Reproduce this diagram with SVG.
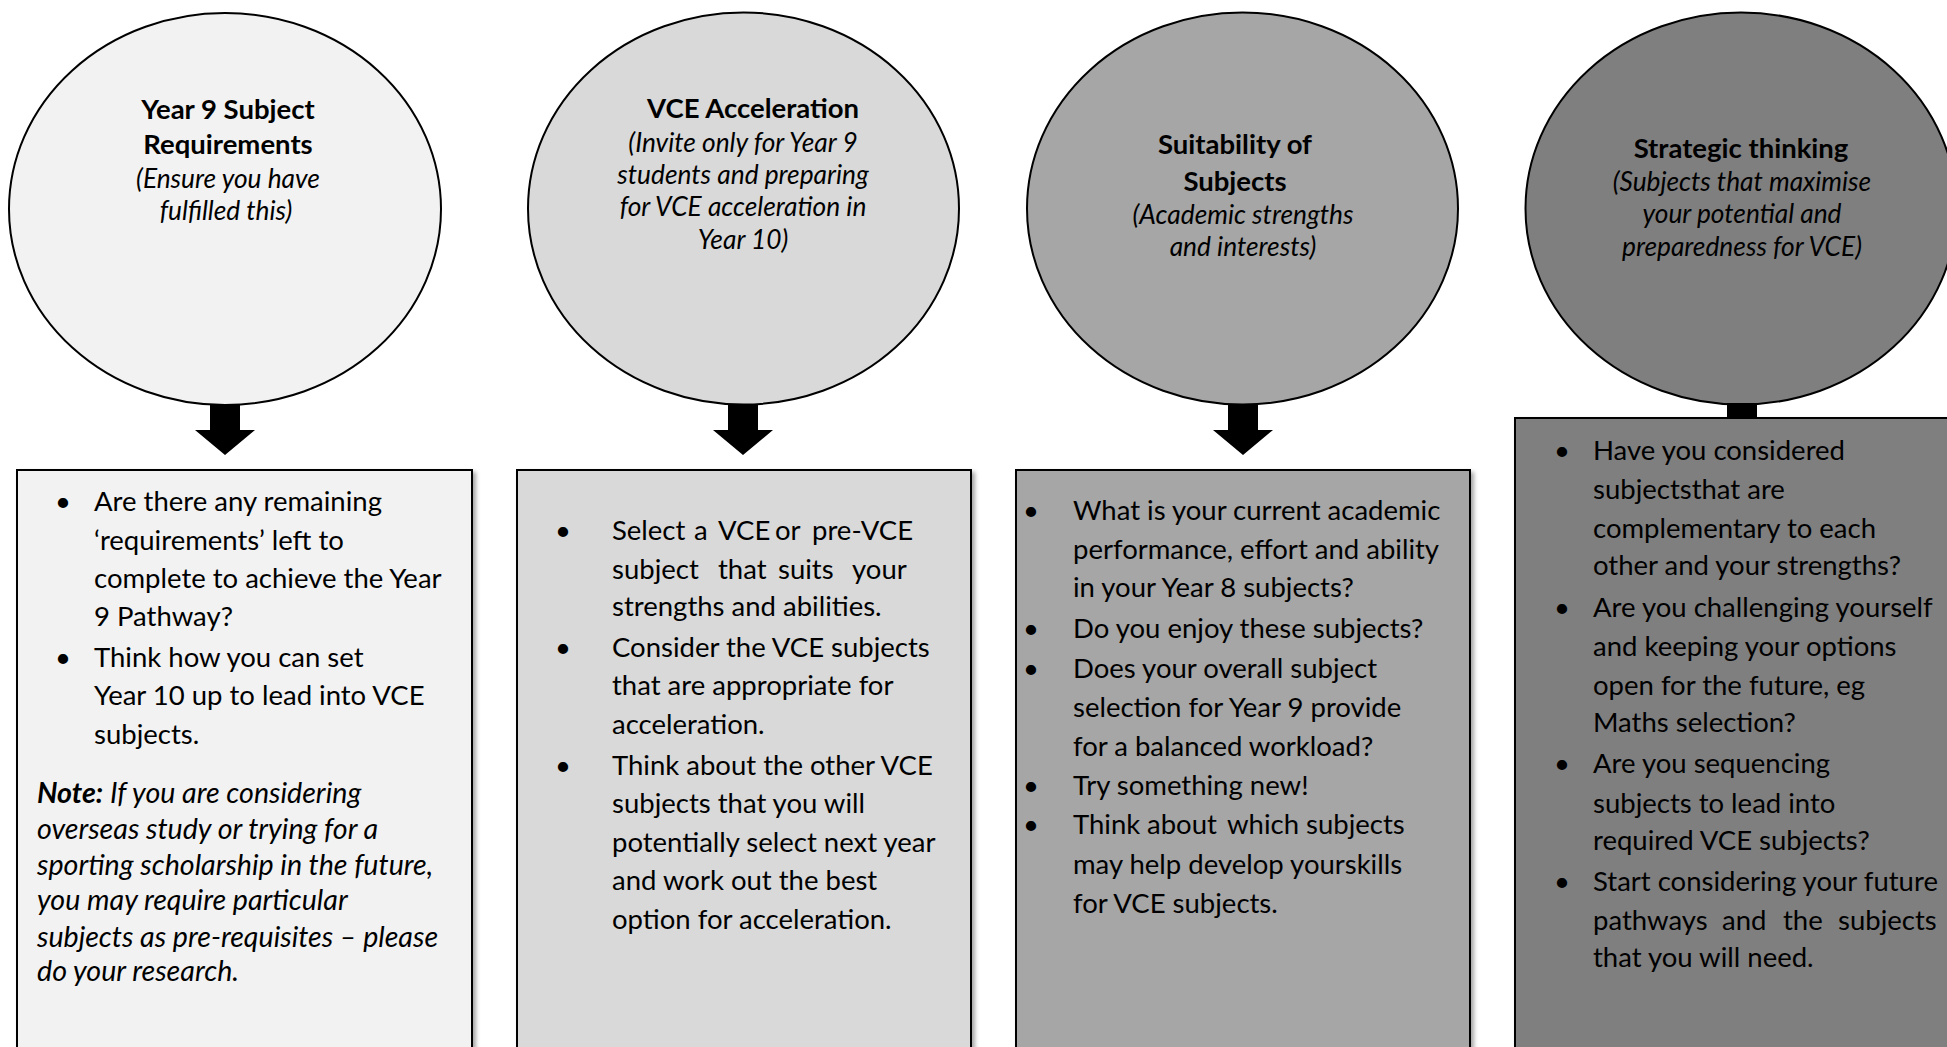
<svg xmlns="http://www.w3.org/2000/svg" width="1947" height="1047" viewBox="0 0 1947 1047">
<defs>
<style>
.t{font-family:Lato,"Liberation Sans",sans-serif;fill:#000;}
.h{font-size:27.5px;font-weight:bold;text-anchor:middle;}
.s{font-size:26.3px;font-style:italic;text-anchor:middle;}
.b{font-size:27.5px;}
.n{font-size:28.6px;font-style:italic;}
.circ{stroke:#000;stroke-width:2;}
.box{stroke:#000;stroke-width:2;filter:url(#sh);}
.c1{fill:#f2f2f2}.c2{fill:#d9d9d9}.c3{fill:#a6a6a6}.c4{fill:#7f7f7f}
</style>
<filter id="sh" x="-5%" y="-5%" width="110%" height="110%">
<feDropShadow dx="3" dy="3" stdDeviation="2" flood-color="#000" flood-opacity="0.35"/>
</filter>
<path id="arrow" d="M-15,0 H15 V26 H30 L0,51 L-30,26 H-15 Z" fill="#000"/>
</defs>

<g id="node-year9">
<ellipse class="circ c1" cx="225" cy="209" rx="216" ry="196"/>
<text class="t h" x="228" y="119">Year 9 Subject</text>
<text class="t h" x="228" y="154">Requirements</text>
<text class="t s" x="228" y="188">(Ensure you have</text>
<text class="t s" x="226" y="220">fulfilled this)</text>
</g>

<g id="node-vce">
<ellipse class="circ c2" cx="743.5" cy="208.5" rx="215.5" ry="196"/>
<text class="t h" x="753" y="118">VCE Acceleration</text>
<text class="t s" x="743" y="152">(Invite only for Year 9</text>
<text class="t s" x="743" y="184">students and preparing</text>
<text class="t s" x="743" y="216">for VCE acceleration in</text>
<text class="t s" x="743" y="249">Year 10)</text>
</g>

<g id="node-suit">
<ellipse class="circ c3" cx="1242.5" cy="208.5" rx="215.5" ry="196"/>
<text class="t h" x="1235" y="154">Suitability of</text>
<text class="t h" x="1235" y="191">Subjects</text>
<text class="t s" x="1243" y="224">(Academic strengths</text>
<text class="t s" x="1243" y="256">and interests)</text>
</g>

<g id="node-strat">
<ellipse class="circ c4" cx="1741" cy="208.5" rx="215.5" ry="196"/>
<text class="t h" x="1741" y="158">Strategic thinking</text>
<text class="t s" x="1742" y="191">(Subjects that maximise</text>
<text class="t s" x="1742" y="223">your potential and</text>
<text class="t s" x="1742" y="256">preparedness for VCE)</text>
</g>

<g id="connectors">
<use href="#arrow" x="225" y="404"/>
<use href="#arrow" x="743" y="404"/>
<use href="#arrow" x="1243" y="404"/>
<use href="#arrow" x="1742" y="403"/>
</g>

<g id="box-year9">
<rect class="box c1" x="17" y="470" width="455" height="620"/>
<g class="t b">
<text x="55" y="511">•</text>
<text x="94" y="511">Are there any remaining</text>
<text x="94" y="550">‘requirements’ left to</text>
<text x="94" y="588">complete to achieve the Year</text>
<text x="94" y="626">9 Pathway?</text>
<text x="55" y="667">•</text>
<text x="94" y="667">Think how you can set</text>
<text x="94" y="705">Year 10 up to lead into VCE</text>
<text x="94" y="744">subjects.</text>
</g>
<g class="t n">
<text x="37" y="803"><tspan font-weight="bold">Note:</tspan> If you are considering</text>
<text x="37" y="839">overseas study or trying for a</text>
<text x="37" y="875">sporting scholarship in the future,</text>
<text x="37" y="910">you may require particular</text>
<text x="37" y="947">subjects as pre-requisites – please</text>
<text x="37" y="981">do your research.</text>
</g>
</g>

<g id="box-vce">
<rect class="box c2" x="517" y="470" width="454" height="620"/>
<g class="t b">
<text x="555" y="540">•</text>
<text y="540"><tspan x="612">Select</tspan><tspan x="694">a</tspan><tspan x="718">VCE</tspan><tspan x="775">or</tspan><tspan x="812">pre-VCE</tspan></text>
<text y="579"><tspan x="612">subject</tspan><tspan x="718">that</tspan><tspan x="778">suits</tspan><tspan x="852">your</tspan></text>
<text x="612" y="616">strengths and abilities.</text>
<text x="555" y="657">•</text>
<text x="612" y="657">Consider the VCE subjects</text>
<text x="612" y="695">that are appropriate for</text>
<text x="612" y="734">acceleration.</text>
<text x="555" y="775">•</text>
<text x="612" y="775">Think about the other VCE</text>
<text x="612" y="813">subjects that you will</text>
<text x="612" y="852">potentially select next year</text>
<text x="612" y="890">and work out the best</text>
<text x="612" y="929">option for acceleration.</text>
</g>
</g>

<g id="box-suit">
<rect class="box c3" x="1016" y="470" width="454" height="620"/>
<g class="t b">
<text x="1023" y="520">•</text>
<text x="1073" y="520">What is your current academic</text>
<text x="1073" y="559">performance, effort and ability</text>
<text x="1073" y="597">in your Year 8 subjects?</text>
<text x="1023" y="638">•</text>
<text x="1073" y="638">Do you enjoy these subjects?</text>
<text x="1023" y="678">•</text>
<text x="1073" y="678">Does your overall subject</text>
<text x="1073" y="717">selection for Year 9 provide</text>
<text x="1073" y="756">for a balanced workload?</text>
<text x="1023" y="795">•</text>
<text x="1073" y="795">Try something new!</text>
<text x="1023" y="834">•</text>
<text y="834"><tspan x="1073">Think</tspan><tspan x="1147">about</tspan><tspan x="1227">which</tspan><tspan x="1306">subjects</tspan></text>
<text x="1073" y="874">may help develop yourskills</text>
<text x="1073" y="913">for VCE subjects.</text>
</g>
</g>

<g id="box-strat">
<rect class="box c4" x="1515" y="418" width="460" height="680"/>
<g class="t b">
<text x="1554" y="460">•</text>
<text x="1593" y="460">Have you considered</text>
<text x="1593" y="499">subjectsthat are</text>
<text x="1593" y="538">complementary to each</text>
<text x="1593" y="575">other and your strengths?</text>
<text x="1554" y="617">•</text>
<text x="1593" y="617">Are you challenging yourself</text>
<text x="1593" y="656">and keeping your options</text>
<text x="1593" y="695">open for the future, eg</text>
<text x="1593" y="732">Maths selection?</text>
<text x="1554" y="773">•</text>
<text x="1593" y="773">Are you sequencing</text>
<text x="1593" y="813">subjects to lead into</text>
<text x="1593" y="850">required VCE subjects?</text>
<text x="1554" y="891">•</text>
<text x="1593" y="891">Start considering your future</text>
<text y="930"><tspan x="1593">pathways</tspan><tspan x="1722">and</tspan><tspan x="1783">the</tspan><tspan x="1838">subjects</tspan></text>
<text x="1593" y="967">that you will need.</text>
</g>
</g>
</svg>
